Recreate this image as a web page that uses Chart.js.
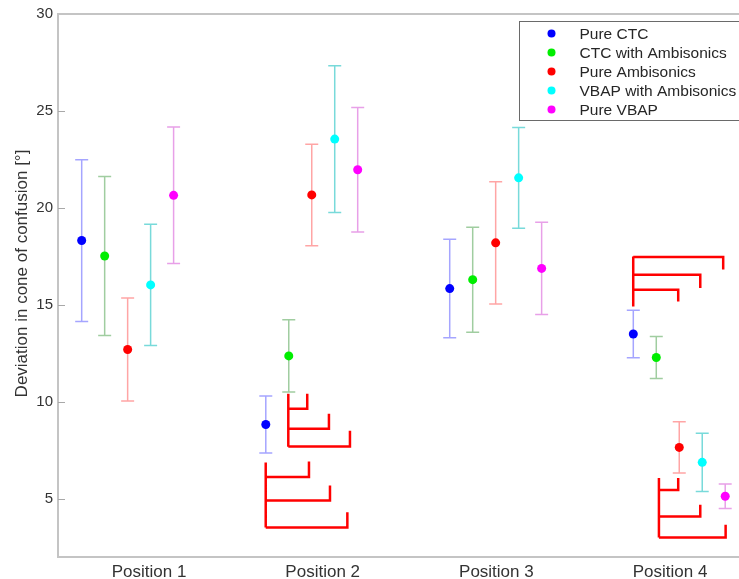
<!DOCTYPE html>
<html>
<head>
<meta charset="utf-8">
<script src="https://cdn.jsdelivr.net/npm/chart.js@4.4.1/dist/chart.umd.min.js"></script>
<style>
  html, body { margin: 0; padding: 0; background: #ffffff; }
  #wrap { width: 739px; height: 579px; }
</style>
</head>
<body>
<div id="wrap"><canvas id="chart" width="739" height="579"></canvas></div>
<script>
// Localisation error in the cone of confusion, per listening position and rendering method
const categories = ['Position 1', 'Position 2', 'Position 3', 'Position 4'];
const seriesNames = ['Pure CTC', 'CTC with Ambisonics', 'Pure Ambisonics', 'VBAP with Ambisonics', 'Pure VBAP'];
const yTitle = 'Deviation in cone of confusion [°]';

// mean deviation [°]
const pureCTC     = [18.32, 8.83, 15.84, 13.50];
const ctcAmbi     = [17.52, 12.37, 16.30, 12.29];
const pureAmbi    = [12.70, 20.67, 18.20, 7.65];
const vbapAmbi    = [16.03, 23.55, 21.55, 6.88];
const pureVBAP    = [20.65, 21.97, 16.88, 5.13];

// half length of the error bars [°]
const pureCTCErr  = [4.17, 1.47, 2.54, 1.23];
const ctcAmbiErr  = [4.10, 1.86, 2.71, 1.08];
const pureAmbiErr = [2.65, 2.62, 3.15, 1.32];
const vbapAmbiErr = [3.13, 3.78, 2.60, 1.50];
const pureVBAPErr = [3.52, 3.21, 2.38, 0.63];

const yTicks = [5, 10, 15, 20, 25, 30];

// significance brackets: stem [x, yFrom, yTo] and arms [stem, level, endX, tipY]
const sigStems = [
  [1.802, 10.42, 7.68],
  [1.672, 6.87, 3.52],
  [3.788, 14.92, 17.50],
  [3.936, 6.07, 3.00]
];
const sigArms = [
  [0, 9.64, 1.911, 10.42],
  [0, 8.61, 2.036, 9.39],
  [0, 7.70, 2.157, 8.51],
  [1, 6.12, 1.921, 6.92],
  [1, 4.91, 2.042, 5.69],
  [1, 3.52, 2.142, 4.31],
  [2, 17.47, 4.306, 16.82],
  [2, 16.56, 4.174, 15.87],
  [2, 15.78, 4.047, 15.18],
  [3, 5.46, 4.047, 6.07],
  [3, 4.09, 4.174, 4.69],
  [3, 3.00, 4.320, 3.66]
];

// layout of the groups along the x axis
const groupX = [0.877, 1.937, 2.996, 4.053];
const seriesStep = 0.1323;

const means = [pureCTC, ctcAmbi, pureAmbi, vbapAmbi, pureVBAP];
const errs = [pureCTCErr, ctcAmbiErr, pureAmbiErr, vbapAmbiErr, pureVBAPErr];
const dotColors = ['#0000ff', '#00ee00', '#ff0000', '#00ffff', '#ff00ff'];
const barColors = ['rgb(165,165,255)', 'rgb(160,205,160)', 'rgb(255,165,165)', 'rgb(120,218,218)', 'rgb(232,160,232)'];

const FONT = '"Liberation Sans", Arial, sans-serif';

const datasets = means.map((vals, s) => ({
  label: seriesNames[s],
  data: vals.map((v, g) => ({ x: groupX[g] + (s - 2) * seriesStep, y: v, err: errs[s][g] })),
  backgroundColor: dotColors[s],
  borderColor: dotColors[s],
  borderWidth: 0,
  pointRadius: 4.5,
  pointHoverRadius: 4.5,
  showLine: false
}));

// bracket polyline, segments separated by gaps
const bracketPts = [];
sigStems.forEach(st => {
  bracketPts.push({ x: st[0], y: st[1] }, { x: st[0], y: st[2] }, { x: st[0], y: null });
});
sigArms.forEach(a => {
  const x0 = sigStems[a[0]][0];
  bracketPts.push({ x: x0, y: a[1] }, { x: a[2], y: a[1] }, { x: a[2], y: a[3] }, { x: a[2], y: null });
});
datasets.push({
  label: 'significance',
  data: bracketPts,
  showLine: true,
  spanGaps: false,
  borderColor: '#ff0000',
  borderWidth: 2.5,
  pointRadius: 0,
  borderCapStyle: 'butt',
  borderJoinStyle: 'miter',
  tension: 0
});

const errorBars = {
  id: 'errorBars',
  beforeDatasetsDraw(chart) {
    const { ctx, scales: { x, y } } = chart;
    ctx.save();
    ctx.lineWidth = 1.5;
    for (let s = 0; s < means.length; s++) {
      ctx.strokeStyle = barColors[s];
      chart.data.datasets[s].data.forEach(p => {
        const px = x.getPixelForValue(p.x);
        const top = y.getPixelForValue(p.y + p.err);
        const bot = y.getPixelForValue(p.y - p.err);
        ctx.beginPath();
        ctx.moveTo(px, top); ctx.lineTo(px, bot);
        ctx.moveTo(px - 6.5, top); ctx.lineTo(px + 6.5, top);
        ctx.moveTo(px - 6.5, bot); ctx.lineTo(px + 6.5, bot);
        ctx.stroke();
      });
    }
    ctx.restore();
  }
};

const frame = {
  id: 'frame',
  beforeDatasetsDraw(chart) {
    const { ctx, chartArea: a, scales: { y } } = chart;
    ctx.save();
    ctx.strokeStyle = '#c4c4c4';
    ctx.lineWidth = 2;
    ctx.beginPath();
    ctx.moveTo(a.left, a.top); ctx.lineTo(a.right, a.top);
    ctx.stroke();
    ctx.strokeStyle = '#a8a8a8';
    ctx.lineWidth = 1;
    ctx.beginPath();
    y.ticks.forEach(t => {
      const py = Math.round(y.getPixelForValue(t.value)) + 0.5;
      if (t.value >= 30) return;
      ctx.moveTo(a.left, py); ctx.lineTo(a.left + 7, py);
    });
    ctx.stroke();
    // axis title, rotated
    ctx.fillStyle = '#333333';
    ctx.font = '17px ' + FONT;
    ctx.textAlign = 'center';
    ctx.textBaseline = 'middle';
    ctx.translate(22, (a.top + a.bottom) / 2 - 12);
    ctx.rotate(-Math.PI / 2);
    ctx.fillText(yTitle, 0, 0);
    ctx.restore();
  }
};

const boxLegend = {
  id: 'boxLegend',
  afterDraw(chart) {
    const { ctx, chartArea: a } = chart;
    const x0 = a.right - 219.5, y0 = a.top + 7.5, w = 230, h = 99;
    ctx.save();
    ctx.fillStyle = '#ffffff';
    ctx.fillRect(x0, y0, w, h);
    ctx.strokeStyle = '#6a6a6a';
    ctx.lineWidth = 1;
    ctx.strokeRect(x0, y0, w, h);
    ctx.font = '15.5px ' + FONT;
    ctx.textBaseline = 'middle';
    ctx.textAlign = 'left';
    for (let s = 0; s < seriesNames.length; s++) {
      const cy = y0 + 12 + s * 19;
      ctx.fillStyle = dotColors[s];
      ctx.beginPath();
      ctx.arc(x0 + 32, cy, 4, 0, Math.PI * 2);
      ctx.fill();
      ctx.fillStyle = '#262626';
      ctx.fillText(seriesNames[s], x0 + 60, cy + 1);
    }
    ctx.restore();
  }
};

new Chart(document.getElementById('chart'), {
  type: 'scatter',
  data: { datasets },
  options: {
    responsive: false,
    animation: false,
    events: [],
    layout: { autoPadding: false, padding: { top: 14, right: 0, bottom: 0, left: 0 } },
    plugins: { legend: { display: false }, tooltip: { enabled: false } },
    scales: {
      x: {
        type: 'linear',
        min: 0.476,
        max: 4.397,
        afterBuildTicks(scale) { scale.ticks = categories.map((c, i) => ({ value: i + 1 })); },
        afterFit(scale) { scale.height = 22; },
        grid: { display: false, drawTicks: false },
        border: { display: true, color: '#c4c4c4', width: 2 },
        ticks: {
          padding: 5,
          color: '#333333',
          maxRotation: 0,
          font: { family: FONT, size: 17 },
          callback: (v) => categories[Math.round(v) - 1] || ''
        }
      },
      y: {
        type: 'linear',
        min: 2,
        max: 30,
        afterBuildTicks(scale) { scale.ticks = yTicks.map(v => ({ value: v })); },
        afterFit(scale) { scale.width = 58; },
        grid: { display: false, drawTicks: false },
        border: { display: true, color: '#c4c4c4', width: 2 },
        ticks: {
          padding: 5,
          color: '#333333',
          font: { family: FONT, size: 15 }
        }
      }
    }
  },
  plugins: [errorBars, frame, boxLegend]
});
</script>
</body>
</html>
